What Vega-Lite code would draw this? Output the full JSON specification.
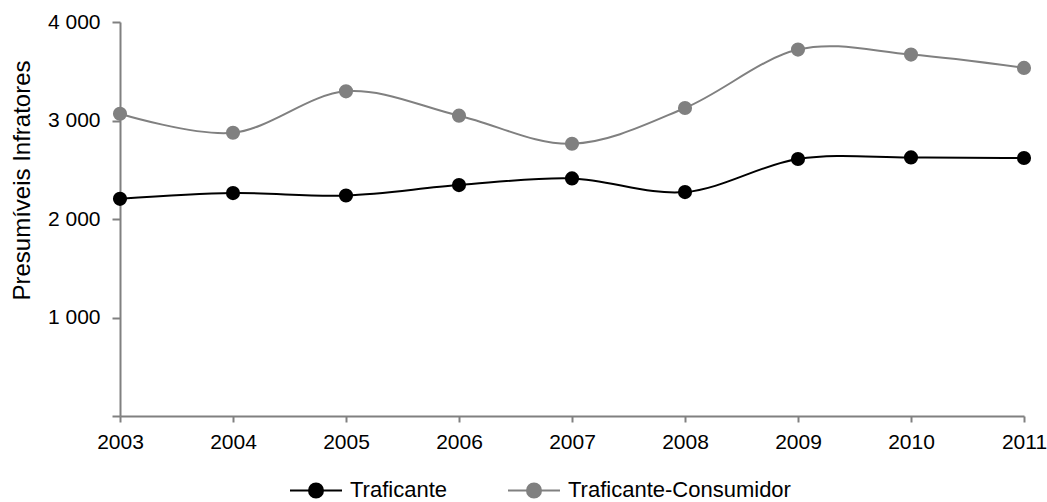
{
  "$schema": "https://vega.github.io/schema/vega-lite/v6.json",
  "autosize": {"type": "none"},
  "padding": {"left": 120, "top": 22, "right": 23, "bottom": 86},
  "width": 904,
  "height": 394,
  "background": "white",
  "config": {
    "font": "Liberation Sans",
    "view": {"stroke": null},
    "axis": {"grid": false, "domainColor": "#808080", "domainWidth": 2, "tickColor": "#808080", "tickWidth": 2, "labelColor": "black", "labelFont": "Liberation Sans", "labelFontSize": 21, "titleFont": "Liberation Sans", "titleFontSize": 24, "titleFontWeight": "normal", "titleColor": "black"}
  },
  "data": {"values": [
    {"year": "2003", "series": "Traficante", "value": 2205},
    {"year": "2004", "series": "Traficante", "value": 2263},
    {"year": "2005", "series": "Traficante", "value": 2239},
    {"year": "2006", "series": "Traficante", "value": 2344},
    {"year": "2007", "series": "Traficante", "value": 2412},
    {"year": "2008", "series": "Traficante", "value": 2273},
    {"year": "2009", "series": "Traficante", "value": 2609},
    {"year": "2010", "series": "Traficante", "value": 2625},
    {"year": "2011", "series": "Traficante", "value": 2619},
    {"year": "2003", "series": "Traficante-Consumidor", "value": 3069},
    {"year": "2004", "series": "Traficante-Consumidor", "value": 2876},
    {"year": "2005", "series": "Traficante-Consumidor", "value": 3296},
    {"year": "2006", "series": "Traficante-Consumidor", "value": 3049},
    {"year": "2007", "series": "Traficante-Consumidor", "value": 2764},
    {"year": "2008", "series": "Traficante-Consumidor", "value": 3127},
    {"year": "2009", "series": "Traficante-Consumidor", "value": 3720},
    {"year": "2010", "series": "Traficante-Consumidor", "value": 3669},
    {"year": "2011", "series": "Traficante-Consumidor", "value": 3534}
  ]},
  "encoding": {
    "x": {"field": "year", "type": "ordinal", "scale": {"type": "point", "padding": 0},
      "axis": {"title": null, "labelAngle": 0, "tickSize": 6, "labelPadding": 9}},
    "y": {"field": "value", "type": "quantitative", "scale": {"domain": [0, 4000], "nice": false},
      "axis": {"title": "Presumíveis Infratores", "values": [0, 1000, 2000, 3000, 4000], "tickSize": 8, "labelPadding": 12,
        "titleX": -86, "titleY": 158,
        "labelExpr": "datum.value == 0 ? '' : replace(format(datum.value, ',d'), ',', ' ')"}},
    "color": {"field": "series", "type": "nominal",
      "scale": {"domain": ["Traficante", "Traficante-Consumidor"], "range": ["#000000", "#808080"]},
      "legend": {"title": null, "orient": "none", "direction": "horizontal", "legendX": 169, "legendY": 441,
        "padding": 0, "symbolOffset": 0, "symbolSize": 2704, "symbolStrokeWidth": 2,
        "symbolType": "M-1,0H1M0.27,0A0.27,0.27 0 1,1 -0.27,0A0.27,0.27 0 1,1 0.27,0Z",
        "labelFont": "Liberation Sans", "labelFontSize": 22, "labelColor": "black", "labelOffset": 7, "labelLimit": 400, "columnPadding": 56,
        "encode": {"symbols": {"update": {"fill": {"scale": "color", "field": "value"}, "stroke": {"scale": "color", "field": "value"}, "fillOpacity": {"value": 1}}}}}}
  },
  "layer": [
    {"mark": {"type": "line", "interpolate": "cardinal", "strokeWidth": 2}},
    {"mark": {"type": "point", "filled": true, "size": 200, "opacity": 1}}
  ]
}
